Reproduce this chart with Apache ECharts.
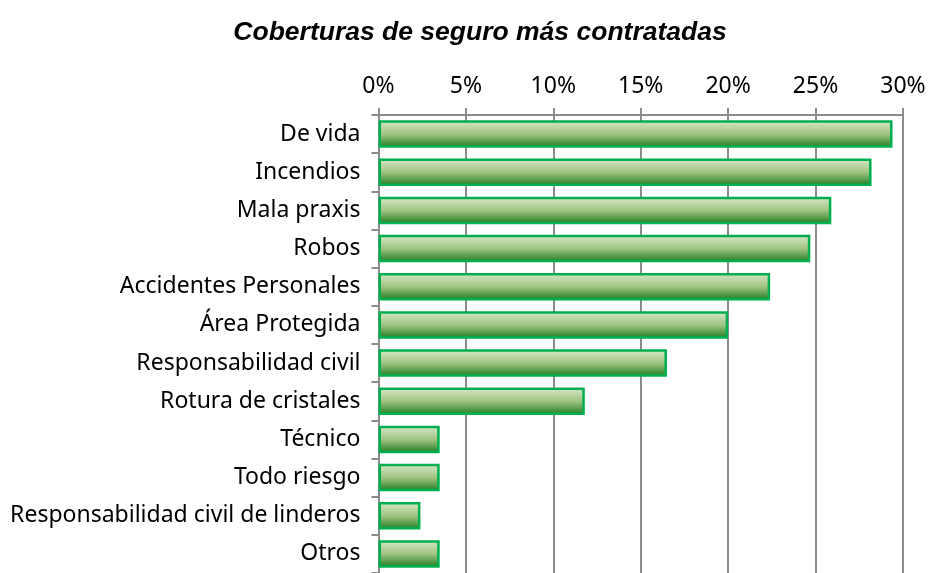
<!DOCTYPE html>
<html>
<head>
<meta charset="utf-8">
<script src="https://cdn.jsdelivr.net/npm/echarts@6/dist/echarts.min.js"></script>
<style>
  html, body { margin: 0; padding: 0; background: #fff; }
  #chart { width: 929px; height: 573px; }
</style>
</head>
<body>
<div id="chart"></div>
<script>
// categories, top to bottom
const categories = [
    'De vida', 'Incendios', 'Mala praxis', 'Robos', 'Accidentes Personales',
    'Área Protegida', 'Responsabilidad civil', 'Rotura de cristales',
    'Técnico', 'Todo riesgo', 'Responsabilidad civil de linderos', 'Otros'
];
// percentages
const values = [29.4, 28.2, 25.9, 24.7, 22.4, 20.0, 16.5, 11.8, 3.5, 3.5, 2.4, 3.5];
const ticks = [0, 5, 10, 15, 20, 25, 30];

const gray = '#8c8c8c';
const txtFont = '"Noto Sans", sans-serif';

let chart = echarts.init(document.getElementById('chart'), null, {renderer: 'canvas'});

let options = {
    animation: false,
    title: {
        text: 'Coberturas de seguro más contratadas',
        left: 475,
        textAlign: 'center',
        top: 14,
        textStyle: {
            fontFamily: '"Liberation Sans", Arial, sans-serif',
            fontStyle: 'italic',
            fontWeight: 'bold',
            fontSize: 26.5,
            color: '#000'
        }
    },
    grid: {left: 378.5, right: 26, top: 115, bottom: -3, containLabel: false},
    xAxis: {
        type: 'value',
        position: 'top',
        min: ticks[0],
        max: ticks[ticks.length - 1],
        interval: 5,
        axisLine: {show: true, lineStyle: {color: gray, width: 2}},
        axisTick: {show: true, length: 7, lineStyle: {color: gray, width: 2}},
        splitLine: {show: true, lineStyle: {color: gray, width: 2}},
        axisLabel: {
            margin: 17,
            fontFamily: txtFont,
            fontSize: 23,
            color: '#000',
            formatter: function(v){ return v + '%'; }
        }
    },
    yAxis: {
        type: 'category',
        inverse: true,
        data: categories,
        axisLine: {show: true, lineStyle: {color: gray, width: 2}},
        axisTick: {show: true, length: 7, lineStyle: {color: gray, width: 2}},
        axisLabel: {
            margin: 18,
            fontFamily: txtFont,
            fontSize: 23,
            color: '#000'
        }
    },
    series: [{
        type: 'bar',
        data: values,
        barCategoryGap: '28%',
        itemStyle: {
            borderColor: '#00b050',
            borderWidth: 2.5,
            color: new echarts.graphic.LinearGradient(0, 0, 0, 1, [
                {offset: 0, color: '#d8e8c8'},
                {offset: 0.5, color: '#a0c482'},
                {offset: 1, color: '#1e7a1e'}
            ])
        }
    }]
};

chart.setOption(options);
</script>
</body>
</html>
